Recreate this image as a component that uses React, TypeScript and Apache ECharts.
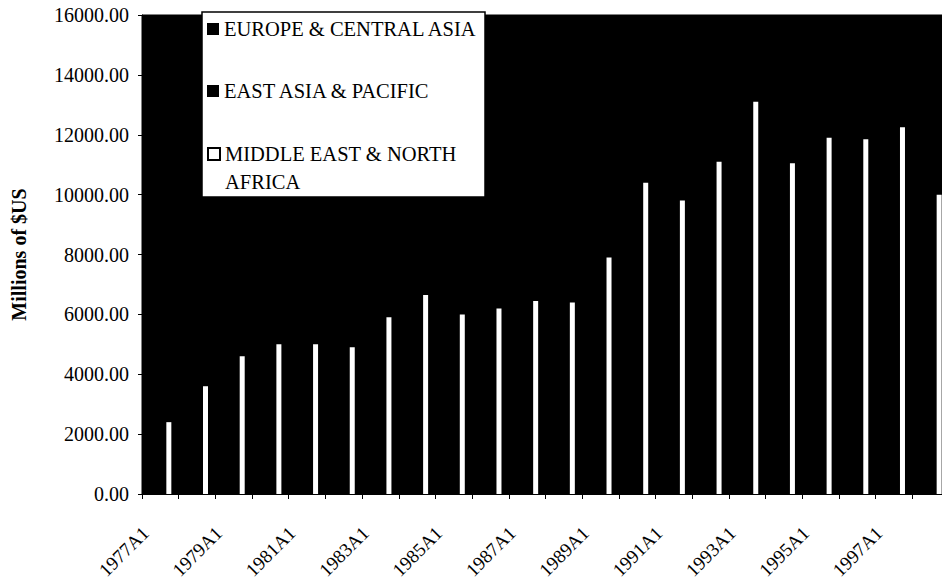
import { useEffect, useRef } from "react";
import * as echarts from "echarts";

const FONT = "Times New Roman, Liberation Serif, DejaVu Serif, serif";

const categories = [
  "1977A1", "1978A1", "1979A1", "1980A1", "1981A1", "1982A1", "1983A1", "1984A1",
  "1985A1", "1986A1", "1987A1", "1988A1", "1989A1", "1990A1", "1991A1", "1992A1",
  "1993A1", "1994A1", "1995A1", "1996A1", "1997A1", "1998A1",
];

// Black-on-black series: drawn in the same colour as the plot background.
const europeCentralAsia: (number | null)[] = [];
const eastAsiaPacific: (number | null)[] = [];

const middleEastNorthAfrica = [
  2400, 3600, 4600, 5000, 5000, 4900, 5900, 6650, 6000, 6200, 6450,
  6400, 7900, 10400, 9800, 11100, 13100, 11050, 11900, 11850, 12250, 10000,
];

const seriesNames = [
  "EUROPE & CENTRAL ASIA",
  "EAST ASIA & PACIFIC",
  "MIDDLE EAST & NORTH AFRICA",
];

const yMin = 0;
const yMax = 16000;
const yStep = 2000;

export default function App() {
  const ref = useRef<HTMLDivElement>(null);

  useEffect(() => {
    if (!ref.current) return;
    const chart = echarts.init(ref.current, null, { renderer: "svg" });

    const legendText = {
      fontFamily: FONT,
      fontSize: 20.5,
      color: "#000",
      lineHeight: 28,
    };
    const legendBase = {
      orient: "vertical",
      left: 207,
      padding: 0,
      itemWidth: 12,
      itemHeight: 12,
      icon: "rect",
      textStyle: legendText,
      selectedMode: false,
      z: 5,
    };

    chart.setOption({
      animation: false,
      textStyle: { fontFamily: FONT },
      grid: {
        left: 142,
        right: -7,
        top: 15,
        bottom: 87,
        show: true,
        backgroundColor: "#000",
        borderColor: "#000",
        borderWidth: 1,
        containLabel: false,
        outerBoundsMode: "none",
      },
      graphic: [
        {
          type: "rect",
          z: 3,
          shape: { x: 202, y: 12, width: 283, height: 185 },
          style: { fill: "#fff", stroke: "#000", lineWidth: 1.5 },
        },
      ],
      legend: [
        { ...legendBase, top: 15, data: [seriesNames[0]] },
        { ...legendBase, top: 77, data: [seriesNames[1]] },
        {
          ...legendBase,
          top: 112,
          data: [
            {
              name: seriesNames[2],
              itemStyle: { color: "#fff", borderColor: "#000", borderWidth: 2 },
            },
          ],
          formatter: () => " \nMIDDLE EAST & NORTH\nAFRICA",
        },
      ],
      xAxis: {
        type: "category",
        data: categories,
        boundaryGap: true,
        axisLine: { show: true, lineStyle: { color: "#000", width: 1 } },
        axisTick: {
          show: true,
          interval: 0,
          length: 5,
          lineStyle: { color: "#000" },
        },
        axisLabel: {
          interval: 1,
          rotate: 45,
          margin: 21,
          padding: [0, 21, 0, 0],
          fontFamily: FONT,
          fontSize: 19,
          color: "#000",
        },
        splitLine: { show: false },
      },
      yAxis: {
        type: "value",
        min: yMin,
        max: yMax,
        interval: yStep,
        name: "Millions of $US",
        nameLocation: "middle",
        nameRotate: 90,
        nameGap: 113,
        nameTextStyle: {
          fontFamily: FONT,
          fontSize: 20,
          fontWeight: "bold",
          color: "#000",
        },
        axisLine: { show: true, lineStyle: { color: "#000", width: 1 } },
        axisTick: { show: true, length: 4, lineStyle: { color: "#000" } },
        axisLabel: {
          margin: 13,
          fontFamily: FONT,
          fontSize: 20,
          color: "#000",
          formatter: (v: number) => v.toFixed(2),
        },
        splitLine: { show: false },
      },
      series: [
        {
          name: seriesNames[0],
          type: "bar",
          data: europeCentralAsia,
          barWidth: 5,
          barGap: "70%",
          itemStyle: { color: "#000" },
        },
        {
          name: seriesNames[1],
          type: "bar",
          data: eastAsiaPacific,
          barWidth: 5,
          barGap: "70%",
          itemStyle: { color: "#000" },
        },
        {
          name: seriesNames[2],
          type: "bar",
          data: middleEastNorthAfrica,
          barWidth: 5,
          barGap: "70%",
          itemStyle: { color: "#fff" },
        },
      ],
    });

    return () => chart.dispose();
  }, []);

  return (
    <div
      ref={ref}
      style={{
        position: "fixed",
        left: 0,
        top: 0,
        width: 942,
        height: 581,
        background: "#fff",
      }}
    />
  );
}
